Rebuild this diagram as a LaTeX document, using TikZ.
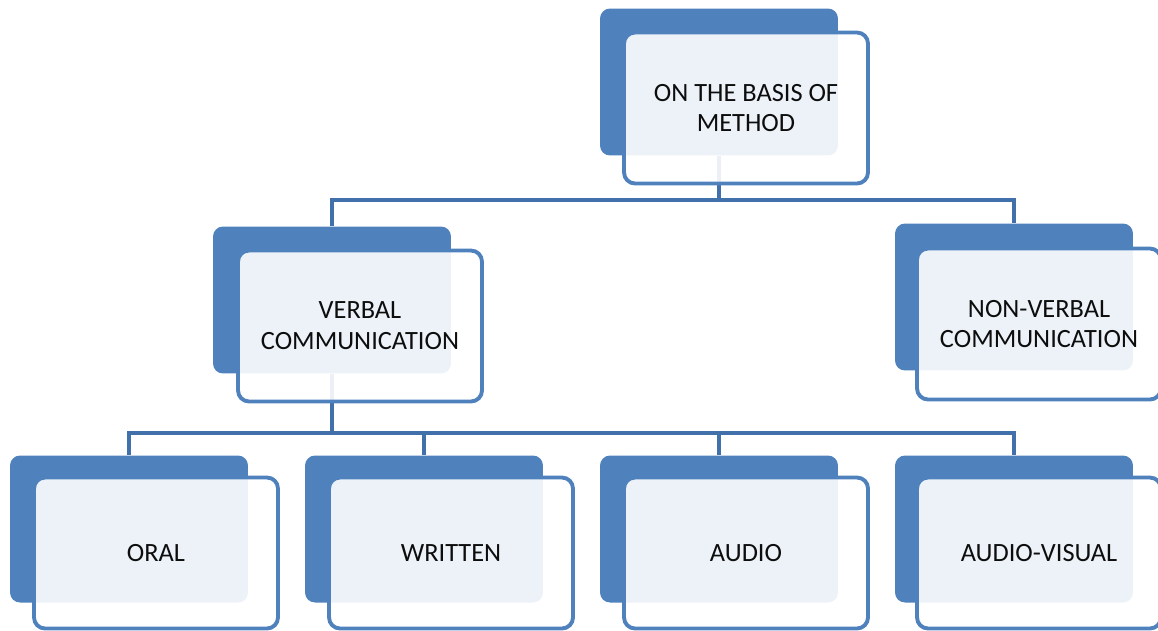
\documentclass[tikz,border=0pt]{standalone}
\usepackage{fontspec}
\setmainfont{Carlito}
\usetikzlibrary{positioning}
\definecolor{accent}{RGB}{79,129,189}
\definecolor{linkblue}{RGB}{66,112,170}
\tikzset{
  backbox/.style={rectangle,rounded corners=0.2cm,fill=accent,minimum width=4.76cm,minimum height=2.94cm,inner sep=0pt},
  frontbox/.style={rectangle,rounded corners=0.22cm,draw=accent,line width=2.2pt,fill=white,fill opacity=0.9,text opacity=1,
    minimum width=4.88cm,minimum height=3.02cm,align=center,font=\fontsize{15}{17.5}\selectfont,text=black!95},
  link/.style={draw=linkblue,line width=2.5pt}
}
\begin{document}
\begin{tikzpicture}[x=0.02cm,y=-0.02cm]
\useasboundingbox (0,0) rectangle (1158,630);
% back plates
\node (methodB) [backbox] at (719,82) {};
\node (verbalB) [backbox] at (332,300) {};
\node (nonverbalB) [backbox] at (1014,297) {};
\node (oralB) [backbox] at (129,529) {};
\node (writtenB) [backbox] at (424,529) {};
\node (audioB) [backbox] at (719,529) {};
\node (avB) [backbox] at (1014,529) {};
%
\draw[link] (methodB.south) -- ++(0,44) coordinate (j1) -| (verbalB.north);
\draw[link] (j1) -| (nonverbalB.north);
\draw[link] (verbalB.south) -- ++(0,59) coordinate (j2) -| (oralB.north);
\draw[link] (j2) -| (writtenB.north);
\draw[link] (j2) -| (audioB.north);
\draw[link] (j2) -| (avB.north);
% front cards
\node (method) [frontbox] at (746,108) {ON THE BASIS OF\\METHOD};
\node (verbal) [frontbox] at (360,326) {VERBAL\\COMMUNICATION};
\node (nonverbal) [frontbox] at (1039,324) {NON-VERBAL\\COMMUNICATION};
\node (oral) [frontbox] at (156,553) {ORAL};
\node (written) [frontbox] at (451,553) {WRITTEN};
\node (audio) [frontbox] at (746,553) {AUDIO};
\node (av) [frontbox] at (1039,553) {AUDIO-VISUAL};
\end{tikzpicture}
\end{document}
